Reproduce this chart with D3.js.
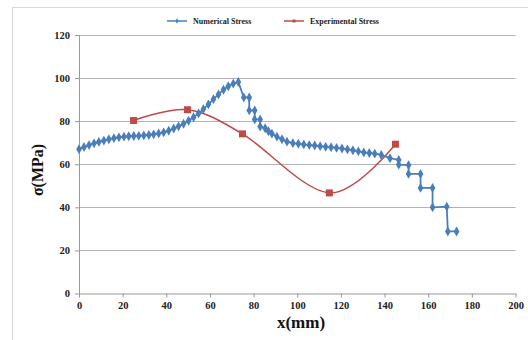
<!DOCTYPE html>
<html><head><meta charset="utf-8">
<script src="https://cdn.jsdelivr.net/npm/d3@7"></script>
<style>body{margin:0;background:#fff}svg{display:block}</style>
</head><body>
<svg id="c" width="528" height="340"></svg>
<script>
const numX = [0,2.3,4.6,6.9,9.1,11.4,13.7,16,18.3,20.6,22.8,25.1,27.4,29.7,32,34.2,36.5,38.8,41.1,43.4,45.6,47.9,50.2,52.5,54.8,57,59.3,61.6,63.9,66.2,68.4,70.7,73,
  75.5,78,78,80.5,80.5,83,83,85.3,86.8,88.4,90.7,93,95.3,98,100.5,103,105.5,108,110.5,113,115.5,118,120.5,123,125.5,128,130.5,133,135.5,138.5,142.5,146.5,146.5,151,151,156.5,156.5,162,162,168.5,169,173];
const numY = [67.0,68.0,68.9,69.7,70.4,71.0,71.6,72.1,72.5,72.8,73.0,73.1,73.2,73.4,73.6,73.9,74.3,74.8,75.6,76.6,77.6,78.8,80.2,81.8,83.6,85.6,87.8,90.2,92.4,94.6,96.2,97.4,98.2,
  91,91,85,85,80.8,80.8,77.5,76.7,75.3,74.2,72.8,71.6,70.5,69.8,69.5,69.2,68.9,68.7,68.4,68.1,67.9,67.6,67.3,66.9,66.5,66.0,65.5,65.2,64.9,64.3,62.8,62,59.8,59.6,55.5,55.5,49,49,40,40.3,28.8,28.8];
const expX = [25,49.7,74.9,114.7,145];
const expY = [80.3,85.3,74.1,46.7,69.3];
const xTicks = [0,20,40,60,80,100,120,140,160,180,200];
const yTicks = [0,20,40,60,80,100,120];
const seriesNames = ["Numerical Stress","Experimental Stress"];
const colors = ["#4a7ebb","#be4b48"];

const svg = d3.select("#c");
const font = "'Liberation Serif','Times New Roman',serif";
// frame
svg.append("path").attr("d","M12.5,340 V7.5 H528").attr("fill","none").attr("stroke","#d9d9d9").attr("stroke-width",1.2);

const x = d3.scaleLinear().domain([0,200]).range([79,515.5]);
const y = d3.scaleLinear().domain([0,120]).range([293.5,35]);

// grid
svg.append("g").selectAll("line").data(yTicks.filter(d=>d>0)).join("line")
  .attr("x1",x(0)).attr("x2",x(200)).attr("y1",d=>Math.round(y(d))+0.5).attr("y2",d=>Math.round(y(d))+0.5)
  .attr("stroke","#b3b3b3").attr("stroke-width",1);

// y axis
const ya = svg.append("g").attr("transform",`translate(${x(0)},0)`)
  .call(d3.axisLeft(y).tickValues(yTicks).tickSize(4).tickPadding(5).tickSizeOuter(0));
ya.select(".domain").attr("stroke","#999");
ya.selectAll(".tick line").attr("stroke","#999");
ya.selectAll("text").attr("font-family",font).attr("font-weight","bold").attr("font-size","10.5px").attr("fill","#222");

// x axis
const xa = svg.append("g").attr("transform",`translate(0,${y(0)})`)
  .call(d3.axisBottom(x).tickValues(xTicks).tickSize(4).tickPadding(4).tickSizeOuter(0));
xa.select(".domain").attr("stroke","#999");
xa.selectAll(".tick line").attr("stroke","#999");
xa.selectAll("text").attr("font-family",font).attr("font-weight","bold").attr("font-size","10.5px").attr("fill","#222");

// axis titles
svg.append("text").attr("x",301).attr("y",328).attr("text-anchor","middle")
  .attr("font-family",font).attr("font-weight","bold").attr("font-size","17px").attr("fill","#111").text("x(mm)");
svg.append("text").attr("transform","translate(43,170) rotate(-90)").attr("text-anchor","middle")
  .attr("font-family",font).attr("font-weight","bold").attr("font-size","16px").attr("fill","#111").text("σ(MPa)");

// experimental series (smoothed)
const exp = expX.map((v,i)=>[v,expY[i]]);
svg.append("path").datum(exp)
  .attr("d",d3.line().x(d=>x(d[0])).y(d=>y(d[1])).curve(d3.curveCatmullRom.alpha(0)))
  .attr("fill","none").attr("stroke",colors[1]).attr("stroke-width",1.5);

// numerical series
const num = numX.map((v,i)=>[v,numY[i]]);
svg.append("path").datum(num)
  .attr("d",d3.line().x(d=>x(d[0])).y(d=>y(d[1])))
  .attr("fill","none").attr("stroke",colors[0]).attr("stroke-width",1.8);
const diamond = d3.symbol().type(d3.symbolDiamond).size(28);
svg.append("g").selectAll("path").data(num).join("path")
  .attr("transform",d=>`translate(${x(d[0])},${y(d[1])})`).attr("d",diamond()).attr("fill",colors[0]);

svg.append("g").selectAll("rect").data(exp).join("rect")
  .attr("x",d=>x(d[0])-3.5).attr("y",d=>y(d[1])-3.5).attr("width",7).attr("height",7).attr("fill",colors[1]);

// legend
const lg = svg.append("g");
const legX = [167,284];
seriesNames.forEach((n,i)=>{
  lg.append("line").attr("x1",legX[i]).attr("x2",legX[i]+20).attr("y1",21).attr("y2",21)
    .attr("stroke",colors[i]).attr("stroke-width",1.5);
  if(i===0) lg.append("path").attr("transform",`translate(${legX[i]+10},21)`).attr("d",d3.symbol().type(d3.symbolDiamond).size(8)()).attr("fill",colors[i]);
  else lg.append("rect").attr("x",legX[i]+8.5).attr("y",19.5).attr("width",3).attr("height",3).attr("fill",colors[i]);
  lg.append("text").attr("x",legX[i]+26).attr("y",24).attr("font-family",font).attr("font-weight","bold")
    .attr("font-size","8px").attr("fill","#222").text(n);
});
</script>
</body></html>
